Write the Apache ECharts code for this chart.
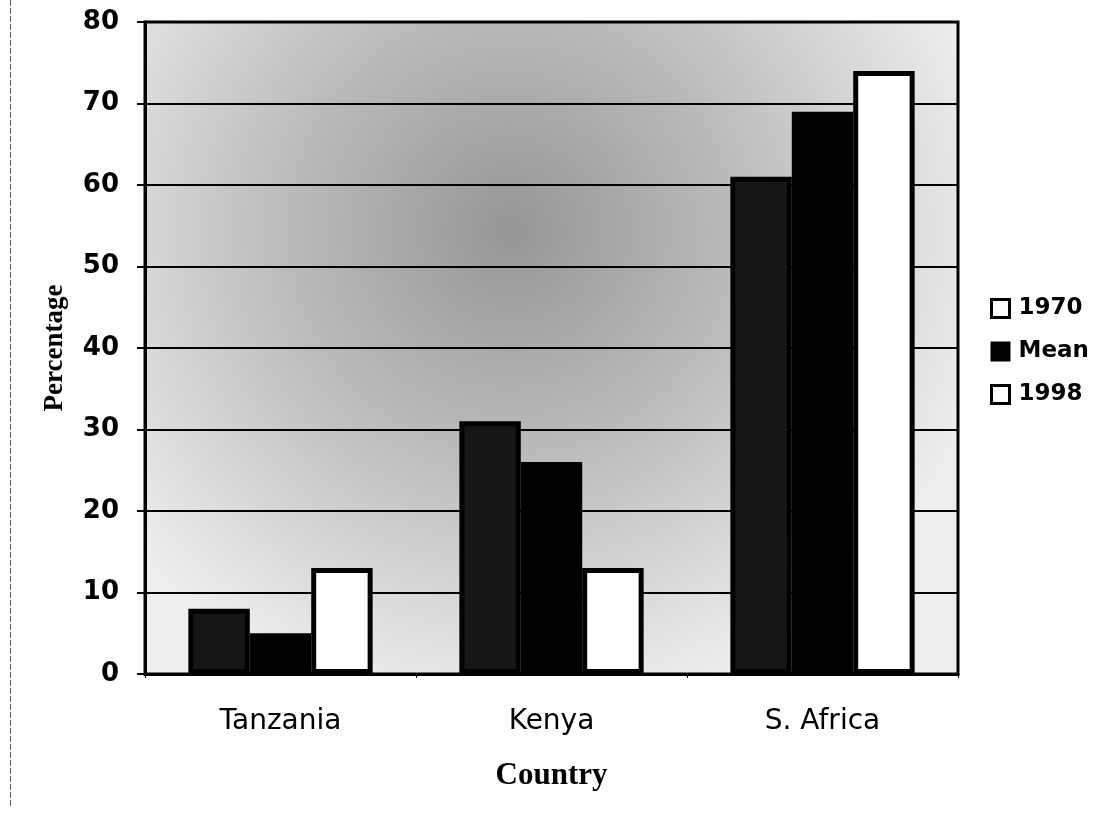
<!DOCTYPE html>
<html>
<head>
<meta charset="utf-8">
<style>
  html, body { margin: 0; padding: 0; background: #ffffff; }
  #chart { width: 1103px; height: 814px; }
</style>
<script src="https://cdn.jsdelivr.net/npm/echarts@6/dist/echarts.min.js"></script>
</head>
<body>
<div id="chart"></div>
<script>
// Share (%) by country: 1970, mean over the period, and 1998
const countries = ['Tanzania', 'Kenya', 'S. Africa'];
const values1970 = [8, 31, 61];
const valuesMean = [5, 26, 69];
const values1998 = [13, 13, 74];
const yTicks = [0, 10, 20, 30, 40, 50, 60, 70, 80];

const chart = echarts.init(document.getElementById('chart'), null, { renderer: 'canvas' });

const sans = 'DejaVu Sans, Liberation Sans, Arial, sans-serif';
const serif = 'Liberation Serif, Times New Roman, serif';

chart.setOption({
  animation: false,
  backgroundColor: '#ffffff',
  grid: {
    left: 145, right: 145, top: 22, bottom: 140,
    show: true,
    borderColor: '#000',
    borderWidth: 3,
    backgroundColor: {
      type: 'radial', x: 0.45, y: 0.32, r: 0.75,
      colorStops: [
        { offset: 0, color: '#969696' },
        { offset: 0.45, color: '#bababa' },
        { offset: 1, color: '#eeeeee' }
      ]
    }
  },
  legend: {
    orient: 'vertical',
    left: 990, top: 297,
    padding: 0,
    icon: 'rect',
    itemWidth: 18, itemHeight: 18, itemGap: 20,
    textStyle: { fontFamily: sans, fontWeight: 'bold', fontSize: 23, color: '#000', padding: [0, 0, 0, 4] },
    data: [
      { name: '1970', itemStyle: { color: '#ffffff', borderColor: '#000', borderWidth: 3 } },
      { name: 'Mean', itemStyle: { color: '#000', borderColor: '#000', borderWidth: 2 } },
      { name: '1998', itemStyle: { color: '#ffffff', borderColor: '#000', borderWidth: 3 } }
    ]
  },
  xAxis: {
    type: 'category',
    data: countries,
    name: 'Country',
    nameLocation: 'middle',
    nameGap: 86,
    nameTextStyle: { fontFamily: serif, fontWeight: 'bold', fontSize: 31, color: '#000' },
    axisLine: { lineStyle: { color: '#000', width: 3 } },
    axisTick: { show: true, length: 4, lineStyle: { color: '#000', width: 1 } },
    axisLabel: { fontFamily: sans, fontSize: 28, color: '#000', margin: 34 }
  },
  yAxis: {
    type: 'value',
    min: yTicks[0], max: yTicks[yTicks.length - 1], interval: 10,
    name: 'Percentage',
    nameLocation: 'middle',
    nameGap: 76,
    nameTextStyle: { fontFamily: serif, fontWeight: 'bold', fontSize: 27, color: '#000' },
    axisLine: { show: true, lineStyle: { color: '#000', width: 3 } },
    axisTick: { show: true, length: 8, lineStyle: { color: '#000', width: 2 } },
    axisLabel: { fontFamily: sans, fontWeight: 'bold', fontSize: 26, color: '#000', margin: 26 },
    splitLine: { show: true, lineStyle: { color: '#000', width: 2 } }
  },
  series: [
    {
      name: '1970', type: 'bar', data: values1970,
      barGap: '0%', barCategoryGap: '32%',
      itemStyle: { color: '#161616', borderColor: '#000', borderWidth: 5 }
    },
    {
      name: 'Mean', type: 'bar', data: valuesMean,
      itemStyle: { color: '#000', borderColor: '#000', borderWidth: 5 }
    },
    {
      name: '1998', type: 'bar', data: values1998,
      itemStyle: { color: '#ffffff', borderColor: '#000', borderWidth: 5 }
    }
  ],
  graphic: [
    {
      type: 'line', silent: true,
      shape: { x1: 10.5, y1: 0, x2: 10.5, y2: 806 },
      style: { stroke: '#555', lineWidth: 1, lineDash: [6, 2] }
    }
  ]
});
</script>
</body>
</html>
